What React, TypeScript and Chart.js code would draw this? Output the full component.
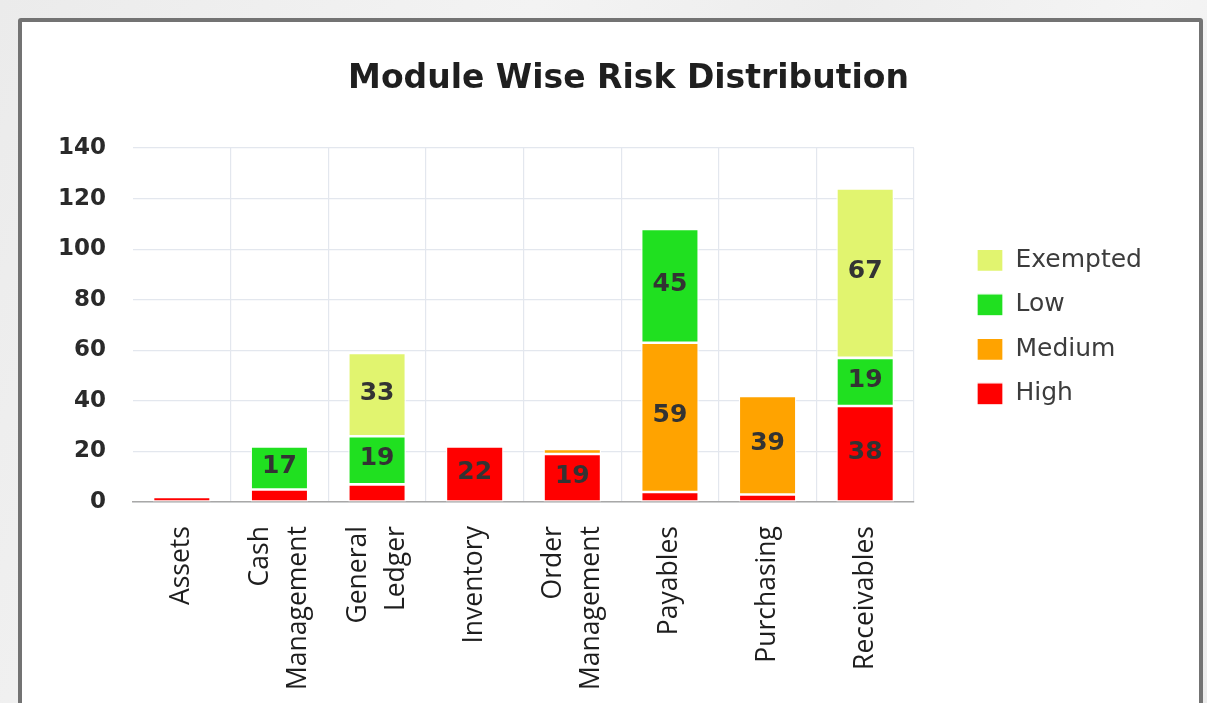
import React, { useEffect, useRef } from "react";
import { Chart, registerables } from "chart.js";

Chart.register(...registerables);

const categories = [
  "Assets",
  "Cash Management",
  "General Ledger",
  "Inventory",
  "Order Management",
  "Payables",
  "Purchasing",
  "Receivables",
];
const highValues = [2, 5, 7, 22, 19, 4, 3, 38];
const mediumValues = [0, 0, 0, 0, 2, 59, 39, 0];
const lowValues = [0, 17, 19, 0, 0, 45, 0, 19];
const exemptedValues = [0, 0, 33, 0, 0, 0, 0, 67];
const yTickMax = 140;
const yTickStep = 20;
const labelThreshold = 10;

const chartTitle = "Module Wise Risk Distribution";

// split category names into lines; single-line names get an empty first line
const labelLines = categories.map((c) => {
  const parts = c.split(" ");
  return parts.length > 1 ? parts : ["", c];
});
const isTwoLine = categories.map((c) => c.split(" ").length > 1);

const barLabelPlugin = {
  id: "barLabels",
  afterDatasetsDraw(chart: any) {
    const ctx = chart.ctx;
    ctx.save();
    ctx.font = "bold 25px 'DejaVu Sans'";
    ctx.fillStyle = "#333333";
    ctx.textAlign = "center";
    ctx.textBaseline = "middle";
    chart.data.datasets.forEach((ds: any, di: number) => {
      const meta = chart.getDatasetMeta(di);
      if (meta.hidden) return;
      meta.data.forEach((el: any, i: number) => {
        const v = ds.data[i];
        if (v == null || v < labelThreshold) return;
        const { x, y, base } = el.getProps(["x", "y", "base"], true);
        ctx.fillText(String(v), x, (y + base) / 2 - 1.5);
      });
    });
    ctx.restore();
  },
};

// widen the legend box so it reaches the right edge of the canvas
const LEGEND_BOX_WIDTH = 268.5;
const legendWidthPlugin = {
  id: "legendWidth",
  beforeLayout(chart: any) {
    const lg = chart.legend;
    if (lg && !lg.__widthPatched) {
      const origFit = lg.fit;
      lg.fit = function (...args: any[]) {
        origFit.apply(this, args);
        this.width = LEGEND_BOX_WIDTH;
      };
      lg.__widthPatched = true;
    }
  },
};

export default function App() {
  const ref = useRef<HTMLCanvasElement | null>(null);

  useEffect(() => {
    if (!ref.current) return;
    const common = {
      borderColor: "#ffffff",
      borderWidth: 1.3,
      borderSkipped: false as const,
      barPercentage: 0.59,
      categoryPercentage: 1,
    };
    const chart = new Chart(ref.current, {
      type: "bar",
      data: {
        labels: labelLines,
        datasets: [
          { label: "High", data: highValues, backgroundColor: "#ff0000", ...common },
          { label: "Medium", data: mediumValues, backgroundColor: "#ffa300", ...common },
          { label: "Low", data: lowValues, backgroundColor: "#20e020", ...common },
          { label: "Exempted", data: exemptedValues, backgroundColor: "#e1f46f", ...common },
        ],
      },
      options: {
        animation: false,
        responsive: false,
        maintainAspectRatio: false,
        devicePixelRatio: 1,
        layout: { padding: { left: 9, right: 0, top: 0, bottom: 8 } },
        plugins: {
          title: {
            display: true,
            text: chartTitle,
            color: "#1f1f1f",
            font: { family: "'DejaVu Sans'", size: 33, weight: "bold", lineHeight: 1.2 },
            padding: { top: 37.2, bottom: 49.2 },
          },
          legend: {
            display: true,
            position: "right",
            fullSize: false,
            reverse: true,
            title: {
              display: true,
              text: " ",
              padding: 0,
              font: { size: 4, lineHeight: 1 },
            },
            labels: {
              boxWidth: 26,
              boxHeight: 22,
              padding: 19.5,
              color: "#3c3c3c",
              font: { family: "'DejaVu Sans'", size: 25 },
            },
          },
          tooltip: { enabled: false },
        },
        scales: {
          x: {
            stacked: true,
            grid: {
              display: true,
              drawTicks: false,
              color: (c: any) =>
                c.index === 0 || c.index === categories.length ? "rgba(0,0,0,0)" : "#e3e7ee",
              lineWidth: 1.2,
            },
            border: { display: true, color: "#a8a8a8", width: 1.5 },
            ticks: {
              autoSkip: false,
              minRotation: 90,
              maxRotation: 90,
              padding: 24,
              labelOffset: -19,
              color: "#1e1e1e",
              font: (c: any) => ({
                family: "'Open Sans'",
                size: 26.5,
                lineHeight: isTwoLine[c.index] ? "38px" : "19px",
              }),
            },
          },
          y: {
            stacked: true,
            min: 0,
            max: yTickMax,
            grid: { display: true, drawTicks: false, color: "#e3e7ee", lineWidth: 1.2 },
            border: { display: false },
            ticks: {
              stepSize: yTickStep,
              padding: 27,
              color: "#2a2a2a",
              font: { family: "'DejaVu Sans'", size: 23, weight: "bold" },
            },
          },
          ySpacer: {
            type: "linear",
            position: "right",
            display: true,
            weight: 0,
            grid: { display: false, drawTicks: false },
            border: { display: false },
            ticks: { display: false },
            afterFit: (s: any) => {
              s.width = 43.5;
            },
          },
        } as any,
      },
      plugins: [barLabelPlugin, legendWidthPlugin],
    });
    return () => chart.destroy();
  }, []);

  return (
    <div
      style={{
        position: "fixed",
        left: 0,
        top: 0,
        width: 1207,
        height: 703,
        overflow: "hidden",
        background:
          "linear-gradient(115deg, #ebebeb 0%, #f3f3f3 35%, #ededed 55%, #f4f4f4 75%, #ececec 100%)",
      }}
    >
      <div
        style={{
          position: "absolute",
          left: 18,
          top: 18,
          width: 1185,
          height: 740,
          boxSizing: "border-box",
          border: "4px solid #737373",
          borderRadius: 3,
          background: "#ffffff",
        }}
      >
        <canvas
          ref={ref}
          width={1204}
          height={700}
          style={{ position: "absolute", left: 0, top: 0, width: 1204, height: 700 }}
        />
      </div>
    </div>
  );
}
